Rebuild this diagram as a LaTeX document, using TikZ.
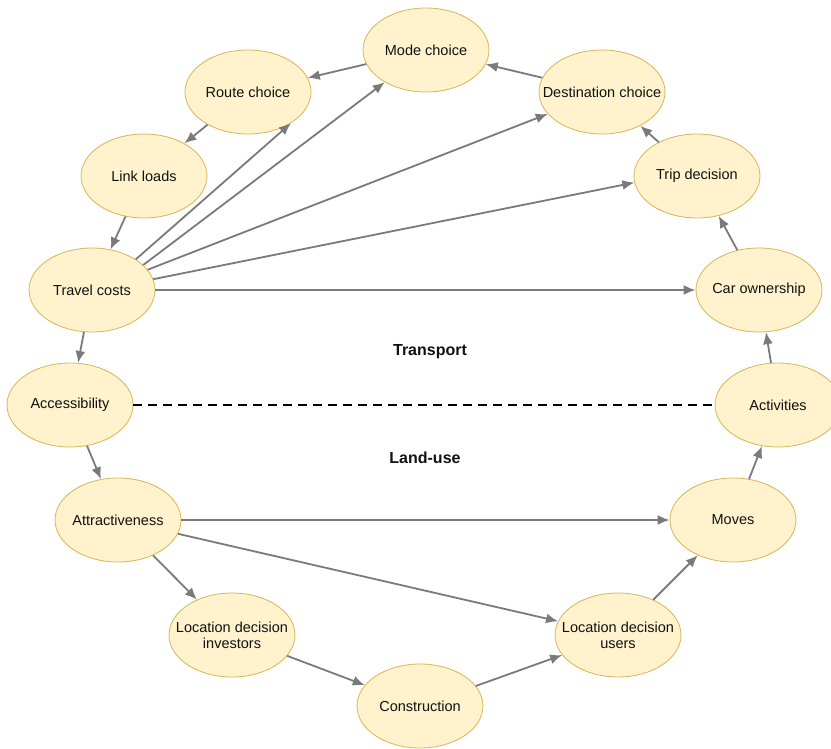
\documentclass[tikz,border=0pt]{standalone}
\usepackage{fontspec}
\setmainfont{Liberation Sans}
\usetikzlibrary{shapes.geometric,arrows.meta}
\definecolor{nodefill}{HTML}{FFF2CC}
\definecolor{nodeline}{HTML}{D6B656}
\definecolor{arrowgray}{HTML}{7A7A7A}
\definecolor{textcol}{HTML}{111111}
\tikzset{
  bub/.style={ellipse, draw=nodeline, fill=nodefill, line width=0.8pt,
    minimum width=126pt, minimum height=84pt, inner sep=0pt},
  btext/.style={align=center, inner sep=0pt,
    font=\fontsize{14.5}{16}\selectfont, text=textcol},
  flow/.style={draw=arrowgray, line width=1.8pt,
    -{Latex[length=12pt,width=10pt]}},
  lbl/.style={font=\fontsize{16}{18}\selectfont\bfseries, text=textcol},
}
\begin{document}
\begin{tikzpicture}[x=1pt,y=-1pt]
\useasboundingbox (0,0) rectangle (831,749);
\node[bub, label={[btext]center:Mode choice}] (mode) at (426,50) {};
\node[bub, label={[btext]center:Route choice}] (route) at (248,92) {};
\node[bub, label={[btext]center:Destination choice}] (dest) at (602,92) {};
\node[bub, label={[btext]center:Link loads}] (link) at (144,176) {};
\node[bub, label={[btext]center:Trip decision}] (trip) at (697,176) {};
\node[bub, label={[btext]center:Travel costs}] (travel) at (92,290) {};
\node[bub, label={[btext]center:Car ownership}] (car) at (759,290) {};
\node[bub, label={[btext]center:Accessibility}] (access) at (70,405) {};
\node[bub, label={[btext]center:Activities}] (activ) at (778,405) {};
\node[bub, label={[btext]center:Attractiveness}] (attr) at (118,520) {};
\node[bub, label={[btext]center:Moves}] (moves) at (733,520) {};
\node[bub, label={[btext]center:{Location decision\\investors}}] (ldi) at (232,635) {};
\node[bub, label={[btext]center:{Location decision\\users}}] (ldu) at (618,635) {};
\node[bub, label={[btext]center:Construction}] (constr) at (420,706) {};
\node[lbl] (transport) at (430,352) {Transport};
\node[lbl] (landuse) at (425,458) {Land-use};

\draw[black, line width=1.8pt, dash pattern=on 9pt off 6pt] (access) -- (activ);

\draw[flow] (mode) -- (route);
\draw[flow] (dest) -- (mode);
\draw[flow] (trip) -- (dest);
\draw[flow] (car) -- (trip);
\draw[flow] (activ) -- (car);
\draw[flow] (moves) -- (activ);
\draw[flow] (ldu) -- (moves);
\draw[flow] (constr) -- (ldu);
\draw[flow] (ldi) -- (constr);
\draw[flow] (attr) -- (ldi);
\draw[flow] (attr) -- (moves);
\draw[flow] (attr) -- (ldu);
\draw[flow] (access) -- (attr);
\draw[flow] (travel) -- (access);
\draw[flow] (link) -- (travel);
\draw[flow] (route) -- (link);
\draw[flow] (travel.35) -- (route.-36);
\draw[flow] (travel.26) -- (mode.-142);
\draw[flow] (travel.20) -- (dest.202);
\draw[flow] (travel.10) -- (trip.186);
\draw[flow] (travel.0) -- (car.180);
\end{tikzpicture}
\end{document}
